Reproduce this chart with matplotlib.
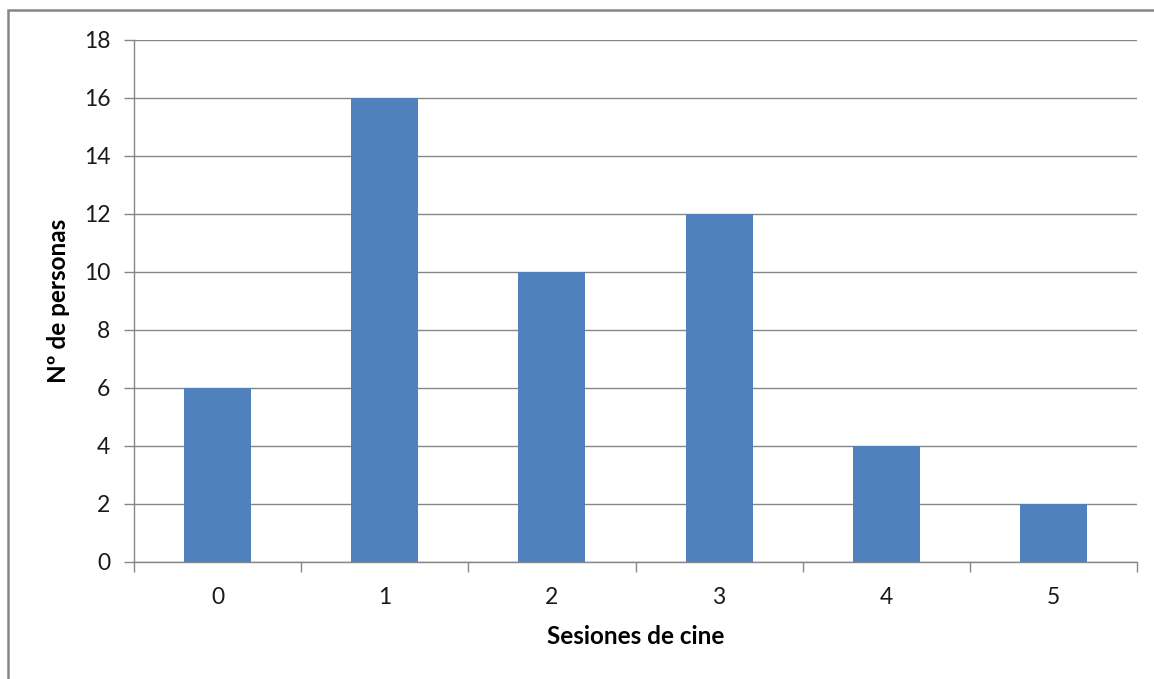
import matplotlib.pyplot as plt
from matplotlib.patches import Rectangle
import numpy as np

# datos
sesiones = ['0', '1', '2', '3', '4', '5']
personas = [6, 16, 10, 12, 4, 2]
yticks = list(range(0, 20, 2))

plt.rcParams['font.family'] = ['Lato', 'DejaVu Sans']

fig = plt.figure(figsize=(11.54, 6.79), dpi=100)
ax = fig.add_axes([134 / 1154, 1 - 562 / 679, (1137 - 134) / 1154, (562 - 40) / 679])

grey = '#868686'
x = np.arange(len(sesiones))
ax.bar(x, personas, width=0.4, color='#4F81BD', zorder=3)

ax.set_xlim(-0.5, len(sesiones) - 0.5)
ax.set_ylim(0, 18)
ax.set_yticks(yticks)
ax.set_yticklabels([str(t) for t in yticks])
ax.yaxis.grid(True, color=grey, linewidth=1.0, zorder=0)

# ticks entre categorias, etiquetas en el centro
ax.set_xticks(np.arange(-0.5, len(sesiones), 1.0))
ax.set_xticklabels([])
ax.set_xticks(x, minor=True)
ax.set_xticklabels(sesiones, minor=True)
ax.tick_params(axis='x', which='major', length=7, width=1, color=grey, direction='out')
ax.tick_params(axis='x', which='minor', length=0, labelsize=16.5, pad=18, labelcolor='#1a1a1a')
ax.tick_params(axis='y', length=7, width=1, color=grey, direction='out', labelsize=16.5,
               pad=10, labelcolor='#1a1a1a')

for s in ['top', 'right']:
    ax.spines[s].set_visible(False)
for s in ['left', 'bottom']:
    ax.spines[s].set_color(grey)
    ax.spines[s].set_linewidth(1.0)

ax.set_xlabel('Sesiones de cine', fontsize=17.5, fontweight='bold', labelpad=12)
ax.set_ylabel('Nº de personas', fontsize=17.5, fontweight='bold', labelpad=10)

# marco exterior del grafico
fig.patches.append(Rectangle((8 / 1154, -0.1), 1.2, 1 - 10 / 679 + 0.1,
                             transform=fig.transFigure, fill=False,
                             edgecolor=grey, linewidth=1.8))

fig.savefig('out.png', dpi=100)
